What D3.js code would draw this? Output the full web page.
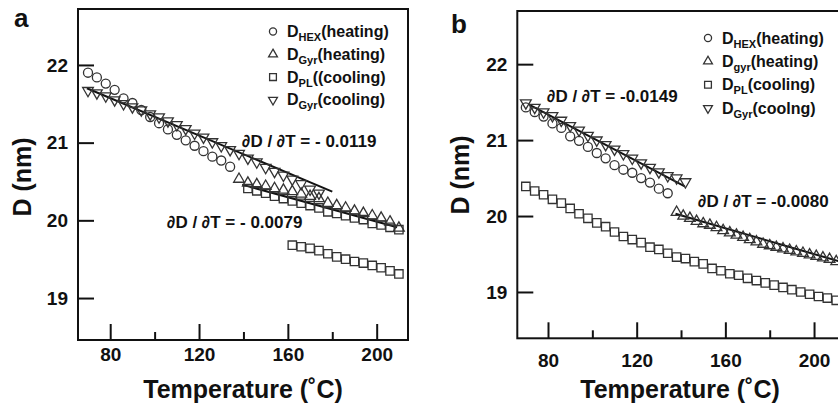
<!DOCTYPE html>
<html><head><meta charset="utf-8">
<script src="https://cdn.jsdelivr.net/npm/d3@7"></script>
<style>
body{margin:0;background:#fff;}
svg{display:block;}
text{font-family:"Liberation Sans",Arial,sans-serif;font-weight:bold;fill:#111;}
</style></head>
<body><svg id="c" width="838" height="405"></svg>
<script>
// ---------- Panel a data ----------
const aHexHeatT = [70,74,78,82,86,90,94,98,102,106,110,114,118,122,126,130,134];
const aHexHeatD = [21.90,21.84,21.76,21.68,21.57,21.51,21.42,21.33,21.25,21.17,21.10,21.03,20.96,20.89,20.82,20.77,20.69];
const aGyrCoolT = [70,74,78,82,86,90,94,98,102,106,110,114,118,122,126,130,134,138,142,146,150,154,158,162,166,170,174];
const aGyrCoolD = [21.67,21.64,21.60,21.55,21.50,21.46,21.42,21.37,21.33,21.28,21.23,21.18,21.12,21.07,21.01,20.96,20.91,20.86,20.80,20.75,20.68,20.63,20.58,20.53,20.47,20.40,20.35];
const aGyrHeatT = [138,142,146,150,154,158,162,166,170,174,178,182,186,190,194,198,202,206,210];
const aGyrHeatD = [20.53,20.48,20.46,20.44,20.41,20.39,20.37,20.34,20.31,20.28,20.22,20.19,20.16,20.12,20.09,20.06,20.03,19.98,19.90];
const aSqUpperT = [142,146,150,154,158,162,166,170,174,178,182,186,190,194,198,202,206,210];
const aSqUpperD = [20.41,20.38,20.35,20.31,20.28,20.25,20.22,20.19,20.16,20.11,20.09,20.06,20.03,20.01,19.96,19.94,19.91,19.88];
const aPLCoolT = [162,166,170,174,178,182,186,190,194,198,202,206,210];
const aPLCoolD = [19.68,19.66,19.64,19.61,19.57,19.53,19.50,19.47,19.45,19.42,19.39,19.35,19.31];
const aFitT = [[69.5,180],[139.4,209.2]];
const aFitD = [[21.70,20.37],[20.46,19.91]];
const aSlopes = ["\u2202D / \u2202T = - 0.0119","\u2202D / \u2202T = - 0.0079"];
const aLegend = [["D","HEX","(heating)"],["D","Gyr","(heating)"],["D","PL","((cooling)"],["D","Gyr","(cooling)"]];

// ---------- Panel b data ----------
const bHexHeatT = [70,74,78,82,86,90,94,98,102,106,110,114,118,122,126,130,134];
const bHexHeatD = [21.43,21.37,21.31,21.22,21.16,21.05,20.99,20.91,20.83,20.76,20.67,20.61,20.57,20.50,20.44,20.36,20.30];
const bGyrCoolT = [70,74,78,82,86,90,94,98,102,106,110,114,118,122,126,130,134,138,142];
const bGyrCoolD = [21.49,21.43,21.37,21.32,21.26,21.19,21.13,21.06,21.00,20.94,20.88,20.82,20.76,20.70,20.64,20.58,20.53,20.50,20.45];
const bGyrHeatT = [138,141,144,147,150,153,156,159,162,165,168,171,174,177,180,183,186,189,192,195,198,201,204,207,210];
const bGyrHeatD = [20.05,20.00,19.97,19.93,19.90,19.88,19.85,19.81,19.78,19.75,19.72,19.69,19.66,19.63,19.61,19.59,19.57,19.55,19.53,19.51,19.49,19.47,19.45,19.43,19.40];
const bPLCoolT = [70,74,78,82,86,90,94,98,102,106,110,114,118,122,126,130,134,138,142,146,150,154,158,162,166,170,174,178,182,186,190,194,198,202,206,210];
const bPLCoolD = [20.39,20.33,20.28,20.22,20.17,20.10,20.03,19.97,19.91,19.86,19.79,19.73,19.69,19.65,19.59,19.56,19.51,19.46,19.44,19.40,19.37,19.31,19.28,19.24,19.22,19.18,19.15,19.12,19.09,19.06,19.03,19.00,18.97,18.94,18.92,18.89];
const bFitT = [[71.9,141.7],[137.5,214]];
const bFitD = [[21.46,20.39],[20.03,19.38]];
const bSlopes = ["\u2202D / \u2202T = -0.0149","\u2202D / \u2202T = -0.0080"];
const bLegend = [["D","HEX","(heating)"],["D","gyr","(heating)"],["D","PL","(cooling)"],["D","Gyr","(coolng)"]];

const majorTicks = [80,120,160,200];
const minorTicks = [100,140,180];
const yTicks = [19,20,21,22];

const svg = d3.select("#c");
const ink = "#111", mk = "#333";

const sym = {
  circle: (s)=>d3.symbol().type(d3.symbolCircle).size(s)(),
  square: (s)=>d3.symbol().type(d3.symbolSquare).size(s)(),
  up: (s)=>d3.symbol().type(d3.symbolTriangle).size(s)(),
  down: (s)=>d3.symbol().type(d3.symbolTriangle).size(s)()
};
const sizes = {circle:64, square:70, up:50, down:50};
const lsizes = {circle:40, square:46, up:34, down:34};

function panel(cfg){
  const g = svg.append("g");
  const x = d3.scaleLinear().domain(cfg.xd).range(cfg.xr);
  const y = d3.scaleLinear().domain(cfg.yd).range(cfg.yr);
  // y axis
  const ya = g.append("g").attr("transform",`translate(${cfg.xr[0]},0)`)
    .call(d3.axisLeft(y).tickValues(yTicks).tickSize(-16).tickPadding(10).tickFormat(d3.format("d")));
  ya.select(".domain").remove();
  ya.selectAll("line").attr("stroke",ink).attr("stroke-width",2);
  ya.selectAll("text").attr("font-size",19).attr("fill",ink);
  // x axis
  const xa = g.append("g").attr("transform",`translate(0,${cfg.yr[0]})`)
    .call(d3.axisBottom(x).tickValues(majorTicks).tickSize(-16).tickPadding(cfg.xpad).tickFormat(d3.format("d")));
  xa.select(".domain").remove();
  xa.selectAll("line").attr("stroke",ink).attr("stroke-width",2);
  xa.selectAll("text").attr("font-size",19).attr("fill",ink);
  const xm = g.append("g").attr("transform",`translate(0,${cfg.yr[0]})`)
    .call(d3.axisBottom(x).tickValues(minorTicks).tickSize(-8).tickFormat(""));
  xm.select(".domain").remove();
  xm.selectAll("line").attr("stroke",ink).attr("stroke-width",2);
  // frame
  g.append("rect").attr("x",cfg.xr[0]).attr("y",cfg.yr[1])
    .attr("width",cfg.xr[1]-cfg.xr[0]).attr("height",cfg.yr[0]-cfg.yr[1])
    .attr("fill","none").attr("stroke",ink).attr("stroke-width",2);
  // fit lines
  cfg.fitT.forEach((t,i)=>{
    g.append("line").attr("x1",x(t[0])).attr("x2",x(t[1]))
      .attr("y1",y(cfg.fitD[i][0])).attr("y2",y(cfg.fitD[i][1]))
      .attr("stroke",ink).attr("stroke-width",2);
  });
  // series
  cfg.series.forEach(s=>{
    g.append("g").selectAll("path").data(s.t.map((t,i)=>[t,s.d[i]])).join("path")
      .attr("d",sym[s.type](sizes[s.type]))
      .attr("transform",d=>`translate(${x(d[0])},${y(d[1])})${s.type==="down"?" rotate(180)":""}`)
      .attr("fill","none").attr("stroke",mk).attr("stroke-width",1.3);
  });
  // slope annotations
  cfg.slopes.forEach((txt,i)=>{
    g.append("text").attr("x",cfg.slopePos[i][0]).attr("y",cfg.slopePos[i][1])
      .attr("font-size",17).text(txt);
  });
  // legend
  const types = ["circle","up","square","down"];
  cfg.legend.forEach((L,i)=>{
    const yy = cfg.legY + i*cfg.legStep;
    g.append("path").attr("d",sym[types[i]](lsizes[types[i]]))
      .attr("transform",`translate(${cfg.legX},${yy})${types[i]==="down"?" rotate(180)":""}`)
      .attr("fill","none").attr("stroke",mk).attr("stroke-width",1.3);
    const t = g.append("text").attr("x",cfg.legX+14).attr("y",yy+5.5).attr("font-size",16);
    t.append("tspan").text(L[0]);
    t.append("tspan").attr("font-size",11).attr("dy",4).text(L[1]);
    t.append("tspan").attr("dy",-4).text(L[2]);
  });
  // axis titles
  g.append("text").attr("transform",`translate(${cfg.ytX},${cfg.ytY}) rotate(-90)`)
    .attr("text-anchor","middle").attr("font-size",25).text("D (nm)");
  g.append("text").attr("x",cfg.xtX).attr("y",398).attr("text-anchor","middle")
    .attr("font-size",25).text("Temperature (\u02DAC)");
  // panel letter
  g.append("text").attr("x",cfg.letter[0]).attr("y",cfg.letter[1]).attr("font-size",26).text(cfg.letter[2]);
}

panel({
  xd:[65.5,214.1], xr:[78,408], yd:[18.46,22.72], yr:[340,9], xpad:8,
  fitT:aFitT, fitD:aFitD,
  series:[
    {type:"circle",t:aHexHeatT,d:aHexHeatD},
    {type:"square",t:aSqUpperT,d:aSqUpperD},
    {type:"up",t:aGyrHeatT,d:aGyrHeatD},
    {type:"square",t:aPLCoolT,d:aPLCoolD},
    {type:"down",t:aGyrCoolT,d:aGyrCoolD}
  ],
  slopes:aSlopes, slopePos:[[242,147],[167,228]],
  legend:aLegend, legX:273, legY:31.5, legStep:22.8,
  ytX:31, ytY:177, xtX:243, letter:[14,27,"a"]
});
panel({
  xd:[66.15,215], xr:[517.3,847.3], yd:[18.39,22.70], yr:[338.3,11], xpad:15,
  fitT:bFitT, fitD:bFitD,
  series:[
    {type:"circle",t:bHexHeatT,d:bHexHeatD},
    {type:"square",t:bPLCoolT,d:bPLCoolD},
    {type:"up",t:bGyrHeatT,d:bGyrHeatD},
    {type:"down",t:bGyrCoolT,d:bGyrCoolD}
  ],
  slopes:bSlopes, slopePos:[[547,101.5],[698,206.5]],
  legend:bLegend, legX:708, legY:38, legStep:23.4,
  ytX:469, ytY:175, xtX:680, letter:[451,33,"b"]
});
</script></body></html>
